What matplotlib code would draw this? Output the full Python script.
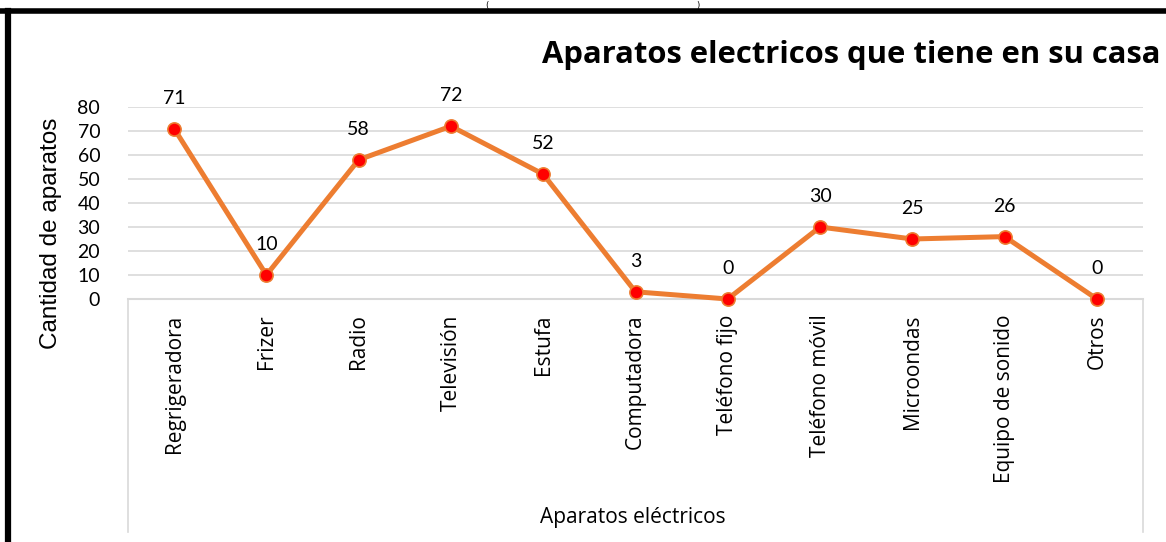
import matplotlib.pyplot as plt
from matplotlib.lines import Line2D

aparatos = ["Regrigeradora", "Frizer", "Radio", "Televisión", "Estufa",
            "Computadora", "Teléfono fijo", "Teléfono móvil", "Microondas",
            "Equipo de sonido", "Otros"]
cantidad = [71, 10, 58, 72, 52, 3, 0, 30, 25, 26, 0]
y_ticks = [0, 10, 20, 30, 40, 50, 60, 70, 80]

orange = "#ED7D31"
grid_c = "#D9D9D9"

fig = plt.figure(figsize=(11.66, 5.42), dpi=100)
ax = fig.add_axes([128 / 1166, 1 - 299 / 542, (1143 - 128) / 1166, (299 - 107) / 542])

x = list(range(len(aparatos)))
ax.plot(x, cantidad, color=orange, lw=3.6, marker="o", ms=9.5,
        mfc="#FF0000", mec=orange, mew=1.2, zorder=3, clip_on=False)

for xi, v in zip(x, cantidad):
    ax.annotate(str(v), (xi, v), xytext=(0, 22), textcoords="offset points",
                ha="center", va="center", fontsize=14, family="Lato")

ax.set_xlim(-0.5, len(aparatos) - 0.5)
ax.set_ylim(0, 80)
ax.set_yticks(y_ticks)
ax.set_yticklabels([str(t) for t in y_ticks], fontsize=14, family="Lato")
ax.set_xticks(x)
ax.set_xticklabels(aparatos, rotation=90, fontsize=15, family="Open Sans", va="top")
ax.tick_params(axis="both", length=0)
ax.tick_params(axis="x", pad=11)
ax.tick_params(axis="y", pad=20)

ax.grid(axis="y", color=grid_c, lw=1.2)
ax.set_axisbelow(True)
for s in ["top", "left", "right"]:
    ax.spines[s].set_visible(False)
ax.spines["bottom"].set_color(grid_c)
ax.spines["bottom"].set_linewidth(1.5)

# category box lines below the axis
for xp in [128, 1143]:
    fig.add_artist(Line2D([xp / 1166, xp / 1166], [1 - 299 / 542, 1 - 532 / 542],
                          color=grid_c, lw=1.2))

ax.set_ylabel("Cantidad de aparatos", fontsize=17.5, family="Liberation Sans")
ax.yaxis.set_label_coords(-0.065, 0.344)
fig.text(633 / 1166, 1 - 518 / 542, "Aparatos eléctricos", ha="center", va="center",
         fontsize=15, family="Open Sans")

fig.text(1160 / 1166, 1 - 55 / 542, "Aparatos electricos que tiene en su casa",
         ha="right", va="center", fontsize=22.3, fontweight="bold", family="Open Sans")

# outer black frame (top and left)
fig.add_artist(Line2D([0, 1], [1 - 11 / 542, 1 - 11 / 542], color="black", lw=4))
fig.add_artist(Line2D([8 / 1166, 8 / 1166], [0, 1 - 11 / 542], color="black", lw=4.5))
fig.text(487 / 1166, 1 - 1 / 542, "(", ha="center", va="top", fontsize=6)
fig.text(698 / 1166, 1 - 1 / 542, ")", ha="center", va="top", fontsize=6)

fig.savefig("out.png", dpi=100)
